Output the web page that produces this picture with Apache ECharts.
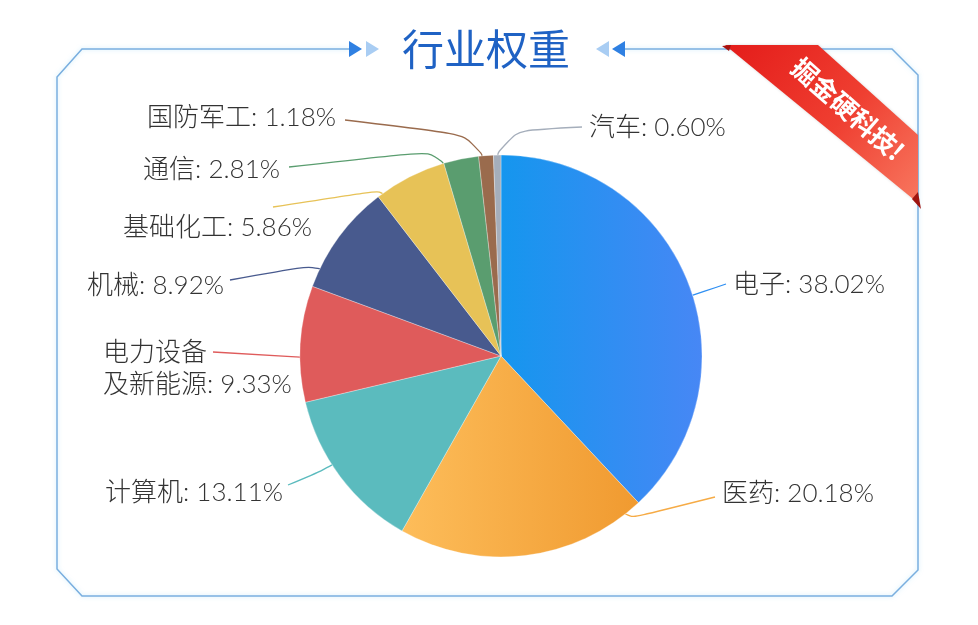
<!DOCTYPE html>
<html>
<head>
<meta charset="utf-8">
<script src="https://cdn.jsdelivr.net/npm/echarts@6/dist/echarts.min.js"></script>
<style>
  html, body { margin: 0; padding: 0; background: #ffffff; }
  #chart { width: 978px; height: 625px; }
</style>
</head>
<body>
<div id="chart"></div>
<script>
// ---- data ----
const categories = ['电子', '医药', '计算机', '电力设备及新能源', '机械', '基础化工', '通信', '国防军工', '汽车'];
const weights = [38.02, 20.18, 13.11, 9.33, 8.92, 5.86, 2.81, 1.18, 0.60];
const titleText = '行业权重';
const ribbonText = '掘金硬科技!';

// ---- styles / layout ----
const solidColors = ['#2f8ff2', '#f6ab45', '#5bbbbe', '#df5b5b', '#485a8e', '#e7c257', '#5a9d6f', '#9a6b4d', '#a5aebb'];
const gradients = {
  0: ['#1596ee', '#4787f5'],
  1: ['#fdbd5a', '#f09a30']
};
const CX = 501, CY = 356, R = 201;
// label placement: x/y of label, align, anchor angle on the arc (deg, clockwise from top), radial extension, line end
const labelPlace = [
  { x: 733, y: 285, align: 'left',  ang: 72.4,  ext: 12, end: [726, 284] },
  { x: 722, y: 494, align: 'left',  ang: 141.8, ext: 6,  end: [715, 497] },
  { x: 283, y: 493, align: 'right', ang: 237.2, ext: 10, end: [288, 485] },
  { x: 103, y: 369, align: 'left',  ang: 269.7, ext: 4,  end: [213, 352] },
  { x: 224, y: 286, align: 'right', ang: 295.7, ext: 8,  end: [230, 280] },
  { x: 312, y: 228, align: 'right', ang: 323.9, ext: 4,  end: [273, 207] },
  { x: 280, y: 170, align: 'right', ang: 343.3, ext: 14, end: [289, 167] },
  { x: 336, y: 118, align: 'right', ang: 354.6, ext: 20, end: [345, 120] },
  { x: 589, y: 128, align: 'left',  ang: 359.1, ext: 24, end: [582, 127] }
];

function arcPoint(angDeg, rad) {
  const a = angDeg * Math.PI / 180;
  return [CX + rad * Math.sin(a), CY - rad * Math.cos(a)];
}

const pieData = categories.map((name, i) => {
  const color = gradients[i]
    ? { type: 'linear', x: 0, y: 0, x2: 1, y2: 0,
        colorStops: [{ offset: 0, color: gradients[i][0] }, { offset: 1, color: gradients[i][1] }] }
    : solidColors[i];
  return {
    name: name,
    value: weights[i],
    itemStyle: { color: color },
    labelLine: { lineStyle: { color: solidColors[i] } }
  };
});

function fmtName(n) {
  return n.length > 6 ? n.slice(0, 4) + '\n' + n.slice(4) : n;
}

const frameColor = '#79aedf';
const framePts = [[349, 49], [82, 49], [57, 77], [57, 569], [82, 596], [892, 596], [918, 570], [918, 75], [892, 49], [624, 49]];

const chart = echarts.init(document.getElementById('chart'), null, { renderer: 'canvas' });
chart.setOption({
  animation: false,
  backgroundColor: '#ffffff',
  graphic: [
    { type: 'polyline', z: 1, shape: { points: framePts },
      style: { stroke: frameColor, lineWidth: 1.5, fill: null, shadowColor: 'rgba(150,215,245,0.55)', shadowBlur: 4 } },
    { type: 'polygon', z: 2, shape: { points: [[349, 41], [362, 49], [349, 57]] }, style: { fill: '#2f80e2' } },
    { type: 'polygon', z: 2, shape: { points: [[366, 41], [379, 49], [366, 57]] }, style: { fill: '#a9cdf3' } },
    { type: 'polygon', z: 2, shape: { points: [[609, 41], [596, 49], [609, 57]] }, style: { fill: '#a9cdf3' } },
    { type: 'polygon', z: 2, shape: { points: [[625, 41], [612, 49], [625, 57]] }, style: { fill: '#2f80e2' } },
    { type: 'text', z: 3, x: 486, y: 49,
      style: { text: titleText, fill: '#1f62c4', fontSize: 42, fontWeight: 'normal',
               fontFamily: '"Noto Sans CJK SC", sans-serif', align: 'center', verticalAlign: 'middle' } },
    // ribbon
    { type: 'polygon', z: 10, shape: { points: [[725, 45], [818, 45], [918, 135], [918, 203]] },
      style: { fill: { type: 'linear', x: 0, y: 0, x2: 1, y2: 1,
        colorStops: [{ offset: 0, color: '#e41c1a' }, { offset: 0.55, color: '#ef3f31' }, { offset: 1, color: '#f8775f' }] },
        shadowColor: 'rgba(0,0,0,0.15)', shadowBlur: 3 } },
    { type: 'polygon', z: 11, shape: { points: [[722, 46], [731, 45], [729, 51]] }, style: { fill: '#a5120f' } },
    { type: 'polygon', z: 11, shape: { points: [[918, 192], [921, 209], [912, 199]] }, style: { fill: '#9e1410' } },
    { type: 'text', z: 12, x: 848, y: 109, rotation: -0.72,
      style: { text: ribbonText, fill: '#ffffff', fontSize: 26, fontWeight: 'bold',
               fontFamily: '"Noto Sans CJK SC", sans-serif', align: 'center', verticalAlign: 'middle' } }
  ],
  series: [{
    type: 'pie',
    center: [CX, CY],
    radius: R,
    startAngle: 90,
    clockwise: true,
    avoidLabelOverlap: false,
    emphasis: { disabled: true },
    itemStyle: { borderColor: 'rgba(255,255,255,0.6)', borderWidth: 0.5 },
    label: {
      show: true,
      color: '#333333',
      fontSize: 26,
      fontWeight: 300,
      lineHeight: 32,
      fontFamily: 'Lato, "Noto Sans CJK SC", sans-serif',
      formatter: p => fmtName(p.name) + ': ' + p.value.toFixed(2) + '%'
    },
    labelLine: { show: true, smooth: 0.9, length: 15, length2: 30, lineStyle: { width: 1.3 } },
    labelLayout: function (params) {
      const L = labelPlace[params.dataIndex];
      const p0 = arcPoint(L.ang, R);
      const p1 = arcPoint(L.ang, R + L.ext);
      return {
        x: L.x, y: L.y, align: L.align, verticalAlign: 'middle',
        labelLinePoints: [p0, p1, L.end]
      };
    },
    data: pieData
  }]
});
</script>
</body>
</html>
